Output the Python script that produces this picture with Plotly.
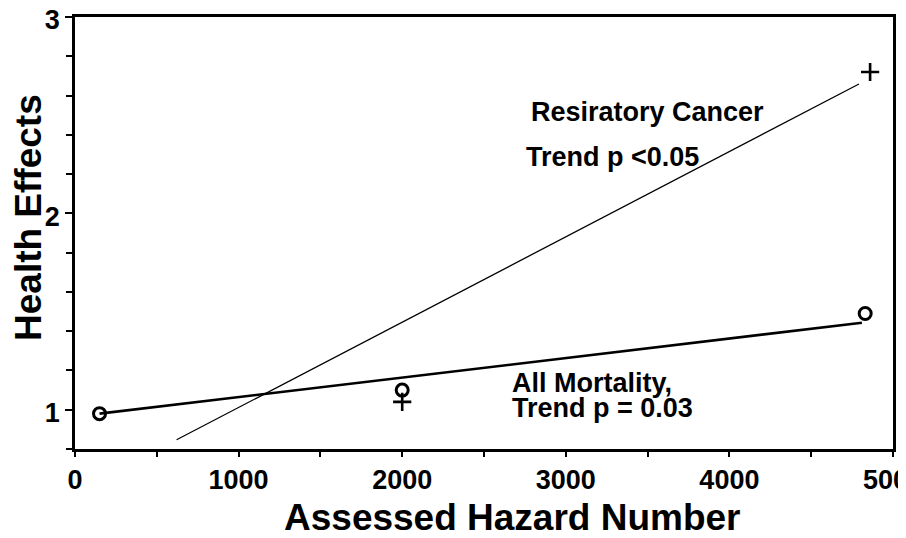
import plotly.graph_objects as go

# Observed points
mort_x = [150, 2000, 4830]
mort_y = [0.98, 1.10, 1.49]
canc_x = [2000, 4860]
canc_y = [1.04, 2.72]

# Trend (fit) line end points
mort_trend_x = [150, 4810]
mort_trend_y = [0.98, 1.443]
canc_trend_x = [621, 4792]
canc_trend_y = [0.847, 2.659]

x_ticks = [0, 1000, 2000, 3000, 4000, 5000]
y_ticks = [1, 2, 3]

FONT = "Liberation Sans"
# page body has an 8px margin, so the figure is a bit smaller than the window
W, H = 898, 530
L, R, T, B = 67, 13, 9, 89
PW, PH = W - L - R, H - T - B          # plot area 818 x 432
# reference window pixel -> paper coordinates
def px2paper_x(px):
    return (px - 8 - L) / PW
def px2paper_y(py):
    return (H - B - (py - 8)) / PH

fig = go.Figure()
fig.add_trace(go.Scatter(x=canc_trend_x, y=canc_trend_y, mode="lines",
                         line=dict(color="black", width=1.3), showlegend=False))
fig.add_trace(go.Scatter(x=mort_trend_x, y=mort_trend_y, mode="lines",
                         line=dict(color="black", width=2.6), showlegend=False))
fig.add_trace(go.Scatter(x=mort_x, y=mort_y, mode="markers",
                         marker=dict(symbol="circle-open", size=12, color="black",
                                     line=dict(width=3, color="black")),
                         showlegend=False, cliponaxis=False))
fig.add_trace(go.Scatter(x=canc_x, y=canc_y, mode="markers",
                         marker=dict(symbol="cross-thin-open", size=13, color="black",
                                     line=dict(width=2.6, color="black")),
                         showlegend=False, cliponaxis=False))

axis_common = dict(
    showgrid=False, zeroline=False, showline=True, linecolor="black", linewidth=2.6,
    mirror=True, ticks="outside", tickwidth=1.5, tickcolor="black",
    automargin=False, ticklabeloverflow="allow",
    tickfont=dict(family=FONT, size=27, color="black", weight="bold"),
)

fig.update_xaxes(range=[0, 5000], tickmode="array", tickvals=x_ticks,
                 ticktext=[str(v) for v in x_ticks], ticklen=5,
                 minor=dict(tickmode="linear", tick0=0, dtick=500, ticklen=5,
                            tickwidth=1.5, tickcolor="black", ticks="outside"),
                 **axis_common)
fig.update_yaxes(range=[0.8, 3], tickmode="array", tickvals=y_ticks,
                 ticktext=[str(v) for v in y_ticks], ticklen=7, ticklabelshift=3,
                 minor=dict(tickmode="linear", tick0=0.8, dtick=0.2, ticklen=6,
                            tickwidth=1.5, tickcolor="black", ticks="outside"),
                 **axis_common)

def note(text, x, y, size=27):
    fig.add_annotation(x=x, y=y, xref="x", yref="y", text=text, showarrow=False,
                       xanchor="left", yanchor="middle",
                       font=dict(family=FONT, size=size, color="black", weight="bold"))

note("Resiratory Cancer", 2775, 2.517)
note("Trend p <0.05", 2745, 2.288)
note("All Mortality,", 2659, 1.137)
note("Trend p = 0.03", 2659, 1.010)

fig.add_annotation(x=px2paper_x(28), y=px2paper_y(218),
                   xref="paper", yref="paper", text="Health Effects", textangle=-90,
                   showarrow=False, xanchor="center", yanchor="middle",
                   font=dict(family=FONT, size=37, color="black", weight="bold"))
fig.add_annotation(x=px2paper_x(512), y=px2paper_y(517),
                   xref="paper", yref="paper", text="Assessed Hazard Number",
                   showarrow=False, xanchor="center", yanchor="middle",
                   font=dict(family=FONT, size=37, color="black", weight="bold"))

fig.update_layout(width=W, height=H, margin=dict(l=L, r=R, t=T, b=B, autoexpand=False),
                  paper_bgcolor="white", plot_bgcolor="white")

fig.write_html("out.html")
